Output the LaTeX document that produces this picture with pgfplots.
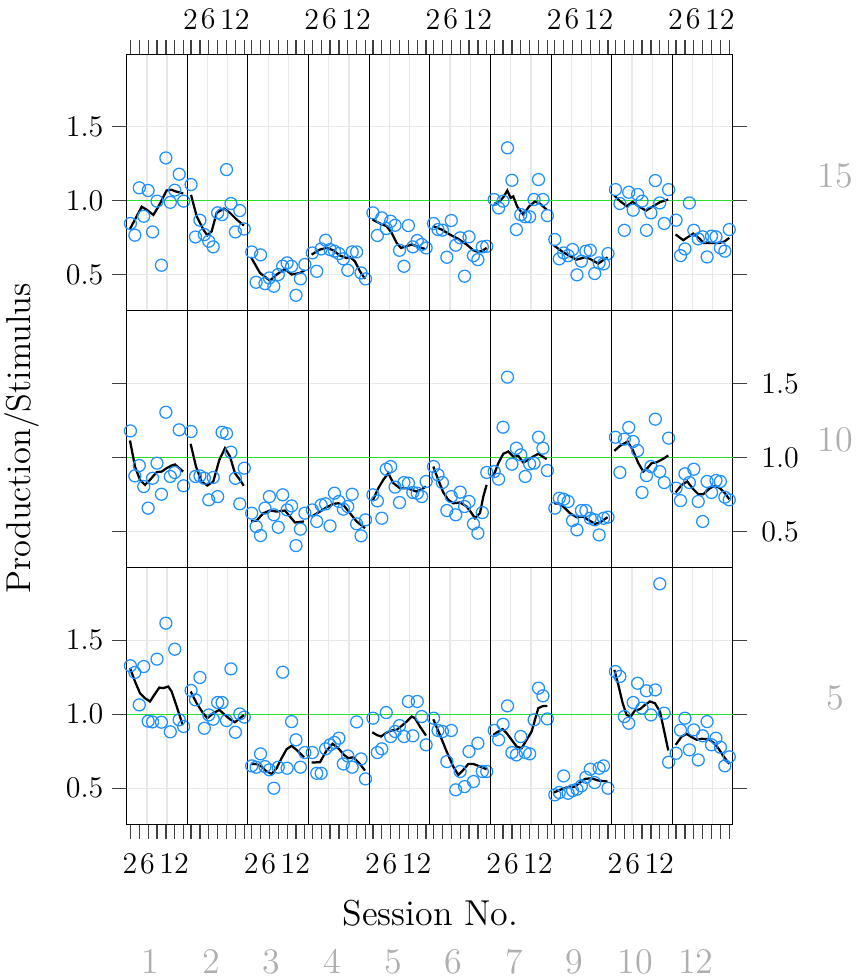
\documentclass[border=0pt]{standalone}
\usepackage{pgfplots}
\pgfplotsset{compat=1.18}
\usepgfplotslibrary{groupplots}
\definecolor{ptblue}{RGB}{30,144,255}
\definecolor{refgreen}{RGB}{40,225,40}
\definecolor{gridgray}{RGB}{232,232,232}
\definecolor{striptext}{RGB}{175,175,175}
\pgfplotsset{
  panel/.style={scale only axis, width=24.252pt, height=102.67pt,
    xmin=0.16, xmax=13.84, ymin=0.256, ymax=1.99,
    axis line style={line width=0.4pt},
    tick align=outside, major tick length=5.8pt, minor tick length=0pt,
    xtick={1,3,5,7,9,11,13}, xticklabels={},
    minor xtick={4.72,9.28}, xminorgrids=true,
    minor grid style={gridgray, line width=0.5pt},
    ytick={0.5,1,1.5}, yticklabels={}, ymajorgrids=true,
    major grid style={gridgray, line width=0.5pt},
    tick style={black!75, line width=0.5pt},
    tick label style={font=\large}},
  tr/.style={xtick pos=right, xticklabel pos=right},
  br/.style={xtick pos=left, xticklabel pos=left},
  mr/.style={xtick=\empty},
  xlabT/.style={extra x ticks={2,6,12}, extra x tick labels={2,6,12},
    extra x tick style={major tick length=0pt, tick style={draw=none}, xticklabel style={yshift=6.5pt, xshift=-2pt}}},
  xlabB/.style={extra x ticks={2,6,12}, extra x tick labels={2,6,12},
    extra x tick style={major tick length=0pt, tick style={draw=none}, xticklabel style={yshift=-8pt, xshift=-2pt}}},
  yL/.style={ytick pos=left},
  yR/.style={ytick pos=right, yticklabel pos=right, yticklabel style={xshift=2pt}},
  yin/.style={ytick style={draw=none}},
  ylabs/.style={yticklabels={0.5,1.0,1.5}},
  pt/.style={only marks, mark=o, mark size=2.4pt, ptblue, mark options={line width=0.5pt}},
  sm/.style={black, line width=0.9pt, no marks},
  gl/.style={refgreen, line width=0.5pt, no marks},
}
\newcommand{\Gl}{\addplot[gl] coordinates {(0.16,1) (13.84,1)};}
\newcommand{\Pt}[1]{\addplot[pt] coordinates {#1};}
\newcommand{\Sm}[1]{\addplot[sm] coordinates {#1};}
\begin{document}
\begin{tikzpicture}
\useasboundingbox (0,0) rectangle (345.2pt,392pt);
\begin{scope}[shift={(50.68pt,370.28pt)}]
\begin{groupplot}[group style={group size=10 by 3, horizontal sep=0pt, vertical sep=0pt},
  panel, anchor=north west]
% ---------------- top row ----------------
\nextgroupplot[tr, yL, ylabs]
\Gl
\Pt{(1,0.847)(2,0.768)(3,1.088)(4,0.896)(5,1.07)(6,0.79)(7,0.998)(8,0.565)(9,1.29)(10,0.99)(11,1.072)(12,1.18)(13,0.998)}
\Sm{(0.9,0.81)(3.54,0.96)(4.66,0.94)(6.17,0.905)(7.3,0.96)(9.17,1.07)(10.3,1.075)(11.06,1.065)(12.93,1.05)}
\nextgroupplot[tr, yin, xlabT]
\Gl
\Pt{(1,1.11)(2,0.756)(3,0.869)(4,0.772)(5,0.727)(6,0.689)(7,0.919)(8,0.907)(9,1.211)(10,0.982)(11,0.79)(12,0.934)(13,0.81)}
\Sm{(0.99,1.04)(2.27,0.896)(3.77,0.806)(4.67,0.767)(5.65,0.794)(6.78,0.919)(8.43,0.948)(9.78,0.919)(11.29,0.874)(12.94,0.833)}
\nextgroupplot[tr, yin]
\Gl
\Pt{(1,0.655)(2,0.45)(3,0.635)(4,0.441)(5,0.479)(6,0.423)(7,0.502)(8,0.558)(9,0.581)(10,0.558)(11,0.362)(12,0.473)(13,0.57)}
\Sm{(0.84,0.62)(2.87,0.513)(5.13,0.461)(6.63,0.502)(8.51,0.54)(10.0,0.502)(11.9,0.513)(13.0,0.531)}
\nextgroupplot[tr, yin, xlabT]
\Gl
\Pt{(1,0.648)(2,0.524)(3,0.675)(4,0.734)(5,0.671)(6,0.66)(7,0.644)(8,0.608)(9,0.531)(10,0.655)(11,0.655)(12,0.513)(13,0.473)}
\Sm{(0.85,0.637)(2.73,0.671)(4.23,0.682)(5.74,0.666)(7.24,0.63)(8.75,0.614)(9.5,0.621)(10.6,0.592)(11.75,0.524)(12.9,0.473)}
\nextgroupplot[tr, yin]
\Gl
\Pt{(1,0.919)(2,0.766)(3,0.885)(4,0.813)(5,0.862)(6,0.835)(7,0.666)(8,0.558)(9,0.833)(10,0.689)(11,0.732)(12,0.705)(13,0.682)}
\Sm{(0.86,0.874)(2.59,0.847)(4.09,0.829)(5.22,0.784)(6.35,0.716)(7.32,0.682)(8.6,0.693)(9.73,0.705)(10.85,0.693)(12.74,0.675)}
\nextgroupplot[tr, yin, xlabT]
\Gl
\Pt{(1,0.847)(2,0.806)(3,0.802)(4,0.619)(5,0.867)(6,0.7)(7,0.75)(8,0.491)(9,0.757)(10,0.63)(11,0.603)(12,0.689)(13,0.693)}
\Sm{(0.94,0.829)(2.82,0.806)(4.7,0.772)(6.58,0.743)(8.46,0.705)(9.97,0.666)(11.1,0.655)(12.2,0.666)(12.97,0.682)}
\nextgroupplot[tr, yin]
\Gl
\Pt{(1,1.009)(2,0.952)(3,0.998)(4,1.358)(5,1.139)(6,0.806)(7,0.907)(8,0.892)(9,0.892)(10,1.009)(11,1.144)(12,1.009)(13,0.9)}
\Sm{(1,0.98)(2.3,0.998)(3.2,1.03)(3.96,1.07)(4.71,1.02)(5.31,1.03)(6.21,0.96)(7.56,0.907)(8.92,0.964)(10.2,0.995)(11.3,0.982)(12.83,0.941)}
\nextgroupplot[tr, yin, xlabT]
\Gl
\Pt{(1,0.739)(2,0.608)(3,0.648)(4,0.63)(5,0.671)(6,0.5)(7,0.592)(8,0.66)(9,0.666)(10,0.509)(11,0.581)(12,0.574)(13,0.644)}
\Sm{(0.81,0.698)(2.54,0.66)(4.42,0.626)(5.92,0.603)(7.8,0.619)(8.93,0.608)(10.8,0.576)(11.9,0.599)(12.9,0.619)}
\nextgroupplot[tr, yin]
\Gl
\Pt{(1,1.076)(2,0.982)(3,0.801)(4,1.058)(5,0.937)(6,1.043)(7,0.998)(8,0.801)(9,0.919)(10,1.137)(11,0.986)(12,0.847)(13,1.076)}
\Sm{(0.75,1.036)(2.03,0.998)(3.53,0.964)(4.88,0.993)(6.16,0.964)(7.89,0.934)(9.54,0.964)(11.04,0.991)(12.9,1.009)}
\nextgroupplot[tr, yR, xlabT]
\Gl
\Pt{(1,0.869)(2,0.63)(3,0.675)(4,0.986)(5,0.801)(6,0.743)(7,0.757)(8,0.621)(9,0.761)(10,0.757)(11,0.682)(12,0.66)(13,0.806)}
\Sm{(0.9,0.773)(2.63,0.734)(3.76,0.757)(4.89,0.779)(6.39,0.743)(7.14,0.716)(9.4,0.716)(10.9,0.716)(12.0,0.727)(13.0,0.75)}
% ---------------- middle row ----------------
\nextgroupplot[mr, yL]
\Gl
\Pt{(1,1.18)(2,0.876)(3,0.946)(4,0.804)(5,0.658)(6,0.86)(7,0.962)(8,0.752)(9,1.306)(10,0.872)(11,0.899)(12,1.187)(13,0.809)}
\Sm{(0.9,1.115)(2.03,0.939)(3.16,0.849)(4.29,0.815)(5.41,0.849)(6.92,0.901)(8.05,0.905)(9.17,0.928)(10.3,0.946)(11.06,0.953)(12.9,0.905)}
\nextgroupplot[mr, yin]
\Gl
\Pt{(1,1.176)(2,0.872)(3,0.876)(4,0.86)(5,0.714)(6,0.865)(7,0.736)(8,1.171)(9,1.162)(10,1.036)(11,0.86)(12,0.687)(13,0.928)}
\Sm{(0.91,1.092)(2.11,0.939)(3.39,0.838)(4.67,0.811)(6.02,0.838)(7.38,0.984)(8.66,1.063)(9.78,1.007)(10.91,0.894)(12.04,0.849)(12.9,0.809)}
\nextgroupplot[mr, yin]
\Gl
\Pt{(1,0.624)(2,0.534)(3,0.473)(4,0.658)(5,0.736)(6,0.613)(7,0.529)(8,0.748)(9,0.646)(10,0.673)(11,0.405)(12,0.516)(13,0.624)}
\Sm{(0.84,0.568)(2.12,0.574)(3.63,0.624)(5.13,0.642)(6.63,0.635)(8.51,0.642)(9.64,0.601)(10.77,0.561)(12.8,0.568)}
\nextgroupplot[mr, yin]
\Gl
\Pt{(1,0.646)(2,0.568)(3,0.68)(4,0.687)(5,0.538)(6,0.759)(7,0.703)(8,0.651)(9,0.669)(10,0.752)(11,0.552)(12,0.471)(13,0.579)}
\Sm{(0.85,0.601)(2.73,0.635)(4.23,0.664)(5.74,0.687)(6.87,0.691)(8.0,0.68)(9.5,0.624)(11.0,0.568)(12.9,0.523)}
\nextgroupplot[mr, yin]
\Gl
\Pt{(1,0.748)(2,0.707)(3,0.59)(4,0.921)(5,0.939)(6,0.8)(7,0.696)(8,0.831)(9,0.827)(10,0.764)(11,0.759)(12,0.736)(13,0.838)}
\Sm{(0.93,0.707)(2.21,0.793)(3.34,0.849)(4.47,0.894)(5.6,0.827)(7.1,0.793)(8.6,0.793)(9.73,0.782)(10.86,0.77)(11.99,0.786)(12.97,0.804)}
\nextgroupplot[mr, yin]
\Gl
\Pt{(1,0.939)(2,0.883)(3,0.831)(4,0.642)(5,0.736)(6,0.613)(7,0.766)(8,0.669)(9,0.703)(10,0.552)(11,0.489)(12,0.628)(13,0.899)}
\Sm{(0.94,0.939)(2.07,0.849)(3.2,0.764)(4.32,0.714)(5.45,0.691)(6.96,0.696)(8.46,0.669)(9.59,0.624)(10.34,0.59)(11.47,0.624)(12.22,0.736)(12.97,0.815)}
\nextgroupplot[mr, yin]
\Gl
\Pt{(1,0.905)(2,0.854)(3,1.205)(4,1.543)(5,0.955)(6,1.063)(7,1.018)(8,0.872)(9,0.957)(10,0.962)(11,1.137)(12,1.063)(13,0.912)}
\Sm{(0.8,0.872)(1.93,0.962)(3.05,1.025)(4.18,1.041)(5.31,1.007)(6.44,1.011)(7.57,0.966)(8.69,0.984)(9.82,1.007)(10.95,1.025)(12.83,0.989)}
\nextgroupplot[mr, yin]
\Gl
\Pt{(1,0.658)(2,0.725)(3,0.718)(4,0.703)(5,0.574)(6,0.511)(7,0.642)(8,0.642)(9,0.59)(10,0.579)(11,0.477)(12,0.59)(13,0.597)}
\Sm{(0.81,0.691)(2.16,0.687)(3.29,0.658)(4.42,0.624)(5.92,0.597)(7.42,0.601)(8.55,0.579)(10.06,0.552)(11.18,0.561)(12.9,0.597)}
\nextgroupplot[mr, yin]
\Gl
\Pt{(1,1.137)(2,0.899)(3,1.124)(4,1.203)(5,1.108)(6,1.047)(7,0.764)(8,0.878)(9,0.939)(10,1.259)(11,0.905)(12,0.831)(13,1.131)}
\Sm{(0.75,1.045)(2.03,1.079)(3.76,1.108)(4.89,1.052)(6.16,0.962)(7.29,0.905)(8.19,0.928)(9.17,0.962)(10.3,0.968)(11.65,0.989)(12.93,1.014)}
\nextgroupplot[mr, yR, ylabs]
\Gl
\Pt{(1,0.793)(2,0.709)(3,0.89)(4,0.831)(5,0.921)(6,0.703)(7,0.568)(8,0.838)(9,0.764)(10,0.845)(11,0.838)(12,0.732)(13,0.714)}
\Sm{(0.9,0.764)(2.26,0.815)(3.53,0.838)(4.89,0.786)(6.02,0.752)(7.14,0.752)(8.65,0.793)(9.78,0.809)(10.9,0.793)(12.03,0.759)(13,0.718)}
% ---------------- bottom row ----------------
\nextgroupplot[br, yL, ylabs, xlabB]
\Gl
\Pt{(1,1.327)(2,1.282)(3,1.063)(4,1.322)(5,0.953)(6,0.948)(7,1.372)(8,0.946)(9,1.615)(10,0.881)(11,1.439)(12,0.962)(13,0.917)}
\Sm{(0.9,1.311)(2.03,1.221)(3.16,1.142)(4.29,1.108)(5.41,1.086)(6.54,1.137)(7.52,1.18)(8.42,1.176)(9.55,1.187)(10.3,1.153)(11.44,1.052)(12.8,0.928)}
\nextgroupplot[br, yin]
\Gl
\Pt{(1,1.16)(2,1.097)(3,1.248)(4,0.905)(5,0.995)(6,0.966)(7,1.079)(8,1.079)(9,0.957)(10,1.306)(11,0.878)(12,1.002)(13,0.98)}
\Sm{(0.91,1.153)(2.27,1.074)(3.62,1.011)(4.67,0.973)(6.02,1.007)(7.38,1.029)(8.66,0.995)(9.78,0.966)(10.9,0.946)(12.04,0.973)(12.94,0.995)}
\nextgroupplot[br, yin, xlabB]
\Gl
\Pt{(1,0.651)(2,0.642)(3,0.732)(4,0.646)(5,0.624)(6,0.5)(7,0.642)(8,1.284)(9,0.635)(10,0.95)(11,0.827)(12,0.642)(13,0.741)}
\Sm{(0.84,0.664)(2.12,0.664)(3.25,0.646)(4.38,0.613)(5.5,0.597)(6.63,0.635)(7.76,0.703)(8.89,0.764)(10.0,0.786)(11.14,0.759)(12.8,0.709)}
\nextgroupplot[br, yin]
\Gl
\Pt{(1,0.741)(2,0.601)(3,0.601)(4,0.766)(5,0.793)(6,0.809)(7,0.838)(8,0.664)(9,0.718)(10,0.642)(11,0.948)(12,0.698)(13,0.563)}
\Sm{(0.85,0.673)(2.73,0.676)(4.23,0.755)(5.58,0.8)(6.87,0.77)(8.15,0.725)(9.12,0.703)(10.25,0.709)(11.75,0.664)(12.88,0.619)}
\nextgroupplot[br, yin, xlabB]
\Gl
\Pt{(1,0.973)(2,0.741)(3,0.766)(4,1.011)(5,0.849)(6,0.883)(7,0.923)(8,0.849)(9,1.086)(10,0.854)(11,1.086)(12,0.984)(13,0.793)}
\Sm{(0.86,0.878)(1.84,0.86)(2.81,0.849)(4.09,0.876)(5.22,0.89)(6.35,0.894)(7.47,0.921)(8.6,0.95)(9.73,0.984)(10.48,0.973)(11.6,0.917)(12.97,0.856)}
\nextgroupplot[br, yin]
\Gl
\Pt{(1,0.973)(2,0.89)(3,0.883)(4,0.68)(5,0.89)(6,0.489)(7,0.613)(8,0.511)(9,0.748)(10,0.545)(11,0.804)(12,0.613)(13,0.613)}
\Sm{(0.94,0.966)(2.44,0.86)(3.95,0.748)(5.45,0.646)(6.58,0.59)(7.71,0.624)(8.84,0.664)(9.97,0.664)(11.1,0.651)(12.97,0.628)}
\nextgroupplot[br, yin, xlabB]
\Gl
\Pt{(1,0.89)(2,0.827)(3,0.932)(4,1.056)(5,0.741)(6,0.725)(7,0.849)(8,0.741)(9,0.732)(10,0.962)(11,1.176)(12,1.124)(13,0.968)}
\Sm{(0.8,0.86)(1.93,0.883)(2.9,0.899)(3.8,0.872)(4.93,0.827)(6.06,0.782)(7.19,0.77)(8.32,0.827)(9.45,0.883)(10.2,0.962)(10.95,1.041)(12.08,1.056)(13,1.056)}
\nextgroupplot[br, yin]
\Gl
\Pt{(1,0.455)(2,0.471)(3,0.583)(4,0.466)(5,0.484)(6,0.493)(7,0.516)(8,0.574)(9,0.628)(10,0.538)(11,0.635)(12,0.651)(13,0.5)}
\Sm{(0.81,0.471)(2.16,0.489)(3.66,0.505)(5.54,0.511)(6.67,0.538)(7.8,0.563)(9.3,0.567)(10.8,0.552)(12.9,0.545)}
\nextgroupplot[br, yin, xlabB]
\Gl
\Pt{(1,1.288)(2,1.255)(3,0.984)(4,0.939)(5,1.079)(6,1.209)(7,1.041)(8,1.158)(9,0.995)(10,1.164)(11,1.881)(12,1.007)(13,0.676)}
\Sm{(0.75,1.3)(1.65,1.198)(2.63,1.074)(3.53,0.995)(4.43,0.984)(5.4,1.025)(6.53,1.034)(7.66,1.063)(8.78,1.086)(9.91,1.074)(11.04,1.018)(11.94,0.894)(12.92,0.755)}
\nextgroupplot[br, yR]
\Gl
\Pt{(1,0.736)(2,0.892)(3,0.973)(4,0.759)(5,0.894)(6,0.691)(7,0.854)(8,0.95)(9,0.793)(10,0.838)(11,0.777)(12,0.651)(13,0.712)}
\Sm{(0.9,0.793)(2.26,0.849)(3.38,0.867)(4.51,0.845)(5.64,0.827)(6.77,0.834)(8.27,0.831)(9.4,0.809)(10.53,0.77)(11.65,0.718)(13,0.664)}
\end{groupplot}
\end{scope}
% axis titles
\node[rotate=90, font=\fontsize{13.8}{16}\selectfont] at (8.8pt,216.6pt) {Production/Stimulus};
\node[font=\Large, anchor=base] at (172.2pt,21.6pt) {Session No.};
% strip labels (right)
\node[font=\Large, text=striptext] at (334pt,321.6pt) {15};
\node[font=\Large, text=striptext] at (334pt,216pt) {10};
\node[font=\Large, text=striptext] at (334pt,112.8pt) {5};
% strip labels (bottom)
\foreach \lab [count=\i from 0] in {1,2,3,4,5,6,7,9,10,12}
  \node[font=\Large, text=striptext, anchor=base] at (60.12pt+\i*24.252pt,2.6pt) {\lab};
\end{tikzpicture}
\end{document}
